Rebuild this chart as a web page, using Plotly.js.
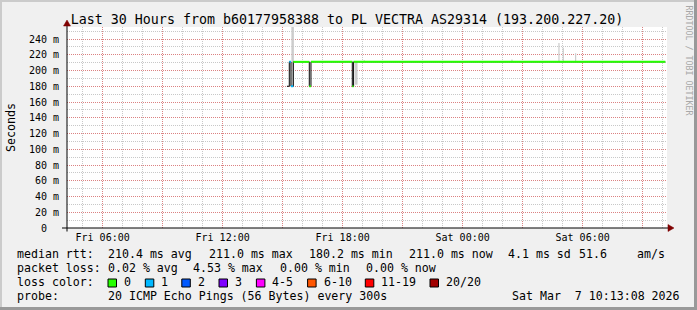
<!DOCTYPE html>
<html>
<head>
<meta charset="utf-8">
<script src="https://cdn.plot.ly/plotly-3.0.1.min.js"></script>
<style>
html,body{margin:0;padding:0;background:#f0f0f0;}
#chart{width:697px;height:310px;}
</style>
</head>
<body>
<div id="chart"></div>
<script>
// ---------- data ----------
const titleText = "Last 30 Hours from b60177958388 to PL VECTRA AS29314 (193.200.227.20)";
const xStart = "2026-03-06 04:13:08";
const xEnd = "2026-03-07 10:13:08";

// median RTT (ms), step series: value holds from this time until the next one
const medianTimes = ["2026-03-06 15:13","2026-03-06 15:20","2026-03-06 15:25","2026-03-06 15:32",
                     "2026-03-06 16:20","2026-03-06 16:25","2026-03-06 18:29","2026-03-06 18:33",
                     "2026-03-07 10:08"];
const medianValues = [180, 211, 180, 211, 180, 211, 180, 211, 211];
// lost pings (of 20) for each step, -1 = not coloured
const lossPings = [-1, 1, 1, 0, 0, 0, 0, 0, 0];

// smoke (spread of pings)
const smokeTimesWide = ["2026-03-06 15:30","2026-03-06 18:41"];
const smokeLowWide = [180, 182];
const smokeHighWide = [300, 211];
const smokeTimesThin = ["2026-03-06 19:05","2026-03-07 02:28","2026-03-07 04:49","2026-03-07 05:02","2026-03-07 05:39"];
const smokeLowThin = [211, 211, 212, 212, 212];
const smokeHighThin = [213, 214, 235, 229, 222];

// axis ticks
const yTickVals = [0,20,40,60,80,100,120,140,160,180,200,220,240];
const yTickText = ["0\u00a0\u00a0","20 m","40 m","60 m","80 m","100 m","120 m","140 m","160 m","180 m","200 m","220 m","240 m"];
const xTickVals = ["2026-03-06 06:00","2026-03-06 09:00","2026-03-06 12:00","2026-03-06 15:00","2026-03-06 18:00",
                   "2026-03-06 21:00","2026-03-07 00:00","2026-03-07 03:00","2026-03-07 06:00","2026-03-07 09:00"];
const xTickText = ["Fri 06:00","","Fri 12:00","","Fri 18:00","","Sat 00:00","","Sat 06:00",""];

// legend / statistics text
const rttLabel = "median rtt:";
const rttStats = ["210.4 ms avg","211.0 ms max","180.2 ms min","211.0 ms now","4.1 ms sd","51.6","am/s"];
const lossLabel = "packet loss:";
const lossStats = ["0.02 % avg","4.53 % max","0.00 % min","0.00 % now"];
const lossColorLabel = "loss color:";
const lossNames = ["0","1","2","3","4-5","6-10","11-19","20/20"];
const lossColors = ["#26ff00","#00b8ff","#0059ff","#7e00ff","#ff00ff","#ff5500","#ff0000","#a10000"];
const probeLabel = "probe:";
const probeText = "20 ICMP Echo Pings (56 Bytes) every 300s";
const dateText = "Sat Mar  7 10:13:08 2026";
const watermark = "RRDTOOL / TOBI OETIKER";

// ---------- layout helpers ----------
const W = 697, H = 310;
const PL = 67, PR = 667, PT = 27, PB = 228;
const px = x => (x - PL) / (PR - PL);
const py = y => (PB - y) / (PB - PT);
const FONT = "DejaVu Sans Mono, monospace";

// ---------- traces ----------
const traces = [];
function smokeTrace(ts, lo, hi, w) {
  const xs = [], ys = [];
  ts.forEach((t, i) => { xs.push(t, t, null); ys.push(lo[i], hi[i], null); });
  return {type:"scatter", mode:"lines", x:xs, y:ys, line:{color:"#cccccc", width:w},
          hoverinfo:"skip", showlegend:false};
}
traces.push(smokeTrace(smokeTimesWide, smokeLowWide, smokeHighWide, 2.5));
traces.push(smokeTrace(smokeTimesThin, smokeLowThin, smokeHighThin, 1.2));

traces.push({type:"scatter", mode:"lines", x:medianTimes, y:medianValues,
  line:{color:"#000000", width:1, shape:"hv"}, hoverinfo:"skip", showlegend:false});

// coloured segments by loss
const byColor = {};
for (let i = 0; i < medianTimes.length - 1; i++) {
  if (lossPings[i] < 0) continue;
  const c = lossPings[i] === 0 ? 0 : Math.min(lossPings[i], 3);
  (byColor[c] = byColor[c] || {x:[], y:[]});
  byColor[c].x.push(medianTimes[i], medianTimes[i+1], null);
  byColor[c].y.push(medianValues[i], medianValues[i], null);
}
Object.keys(byColor).forEach(c => {
  traces.push({type:"scatter", mode:"lines", x:byColor[c].x, y:byColor[c].y,
    line:{color:lossColors[c], width:2}, hoverinfo:"skip", showlegend:false});
});

// ---------- annotations ----------
const ann = [];
function txt(s, x, y, anchor, size, color) {
  ann.push({text:s, xref:"paper", yref:"paper", x:px(x), y:py(y), xanchor:anchor||"left",
    yanchor:"middle", showarrow:false, borderpad:0, font:{family:FONT, size:size||11.6, color:color||"#000"}});
}
const statCols1 = [106.5, 207.5, 307.5, 407.5, 506.5, 578, 635.5];
txt(rttLabel, 16, 254.3);
rttStats.forEach((s, i) => txt(s, statCols1[i], 254.3));
const statCols2 = [107, 192.4, 279, 365.3];
txt(lossLabel, 16, 268.3);
lossStats.forEach((s, i) => txt(s, statCols2[i], 268.3));
txt(lossColorLabel, 16, 282.3);
const boxX = [108, 145.3, 181.8, 219, 256.4, 307.6, 365.3, 430];
const shapes = [];
lossNames.forEach((s, i) => {
  shapes.push({type:"rect", xref:"paper", yref:"paper", x0:px(boxX[i]), x1:px(boxX[i]+8.5),
    y0:py(287), y1:py(279), fillcolor:lossColors[i], line:{color:"#000", width:1}});
  txt(s, boxX[i] + 15, 282.3);
});
txt(probeLabel, 16, 296.3);
txt(probeText, 107, 296.3);
txt(dateText, 681, 296.3, "right");
ann.push({text:watermark, xref:"paper", yref:"paper", x:px(688.5), y:py(60), textangle:90,
  showarrow:false, xanchor:"center", yanchor:"middle", font:{family:FONT, size:8.3, color:"#a8a8a8"}});

// frame shading
shapes.push({type:"rect", xref:"paper", yref:"paper", x0:px(0), x1:px(697), y0:py(0), y1:py(2),
  fillcolor:"#cbcbcb", line:{width:0}, layer:"below"});
shapes.push({type:"rect", xref:"paper", yref:"paper", x0:px(0), x1:px(2), y0:py(0), y1:py(310),
  fillcolor:"#cbcbcb", line:{width:0}, layer:"below"});
shapes.push({type:"rect", xref:"paper", yref:"paper", x0:px(694), x1:px(697), y0:py(0), y1:py(310),
  fillcolor:"#999999", line:{width:0}});
shapes.push({type:"rect", xref:"paper", yref:"paper", x0:px(0), x1:px(697), y0:py(307), y1:py(310),
  fillcolor:"#999999", line:{width:0}});
// axis lines and arrows
shapes.push({type:"line", xref:"paper", yref:"paper", x0:px(62), x1:px(669), y0:py(228), y1:py(228),
  line:{color:"#000", width:1}});
shapes.push({type:"line", xref:"paper", yref:"paper", x0:px(67), x1:px(67), y0:py(231.5), y1:py(24),
  line:{color:"#000", width:1}});
shapes.push({type:"path", xref:"paper", yref:"paper",
  path:`M ${px(668)} ${py(224.5)} L ${px(674)} ${py(228)} L ${px(668)} ${py(231.5)} Z`,
  fillcolor:"#7f0000", line:{color:"#7f0000", width:0.5}});
shapes.push({type:"path", xref:"paper", yref:"paper",
  path:`M ${px(63.5)} ${py(26)} L ${px(67)} ${py(20)} L ${px(70.5)} ${py(26)} Z`,
  fillcolor:"#7f0000", line:{color:"#7f0000", width:0.5}});

const redGrid = "rgba(255,0,0,0.35)";
const grayGrid = "#c8c8c8";

const layout = {
  width: W, height: H,
  margin: {l: PL, r: W - PR, t: PT, b: H - PB, pad: 0},
  paper_bgcolor: "#f0f0f0",
  plot_bgcolor: "#ffffff",
  showlegend: false,
  title: {text: titleText, x: 347/697, xanchor: "center", y: 1 - 19.3/310, yanchor: "middle",
          font: {family: FONT, size: 13.3, color: "#000"}},
  xaxis: {
    type: "date", range: [xStart, xEnd], fixedrange: true,
    tickmode: "array", tickvals: xTickVals, ticktext: xTickText,
    ticks: "", showline: false, zeroline: false,
    showgrid: true, gridcolor: redGrid, griddash: "1px,1px", gridwidth: 1,
    tickfont: {family: FONT, size: 10, color: "#000"},
    ticklabelstandoff: 2,
    minor: {tickmode: "linear", tick0: "2026-03-06 00:00", dtick: 3600000, showgrid: true,
            gridcolor: grayGrid, griddash: "1px,1px", gridwidth: 1, ticks: ""}
  },
  yaxis: {
    range: [0, 201/0.7875], fixedrange: true,
    tickmode: "array", tickvals: yTickVals, ticktext: yTickText,
    ticks: "", showline: false, zeroline: false,
    showgrid: true, gridcolor: redGrid, griddash: "1px,1px", gridwidth: 1,
    tickfont: {family: FONT, size: 10, color: "#000"},
    ticklabelstandoff: 7,
    title: {text: "Seconds", font: {family: FONT, size: 11.7, color: "#000"}, standoff: 10},
    minor: {tickmode: "linear", tick0: 0, dtick: 10, showgrid: true,
            gridcolor: grayGrid, griddash: "1px,1px", gridwidth: 1, ticks: ""}
  },
  annotations: ann,
  shapes: shapes
};

Plotly.newPlot("chart", traces, layout, {displayModeBar: false, staticPlot: true});
</script>
</body>
</html>
